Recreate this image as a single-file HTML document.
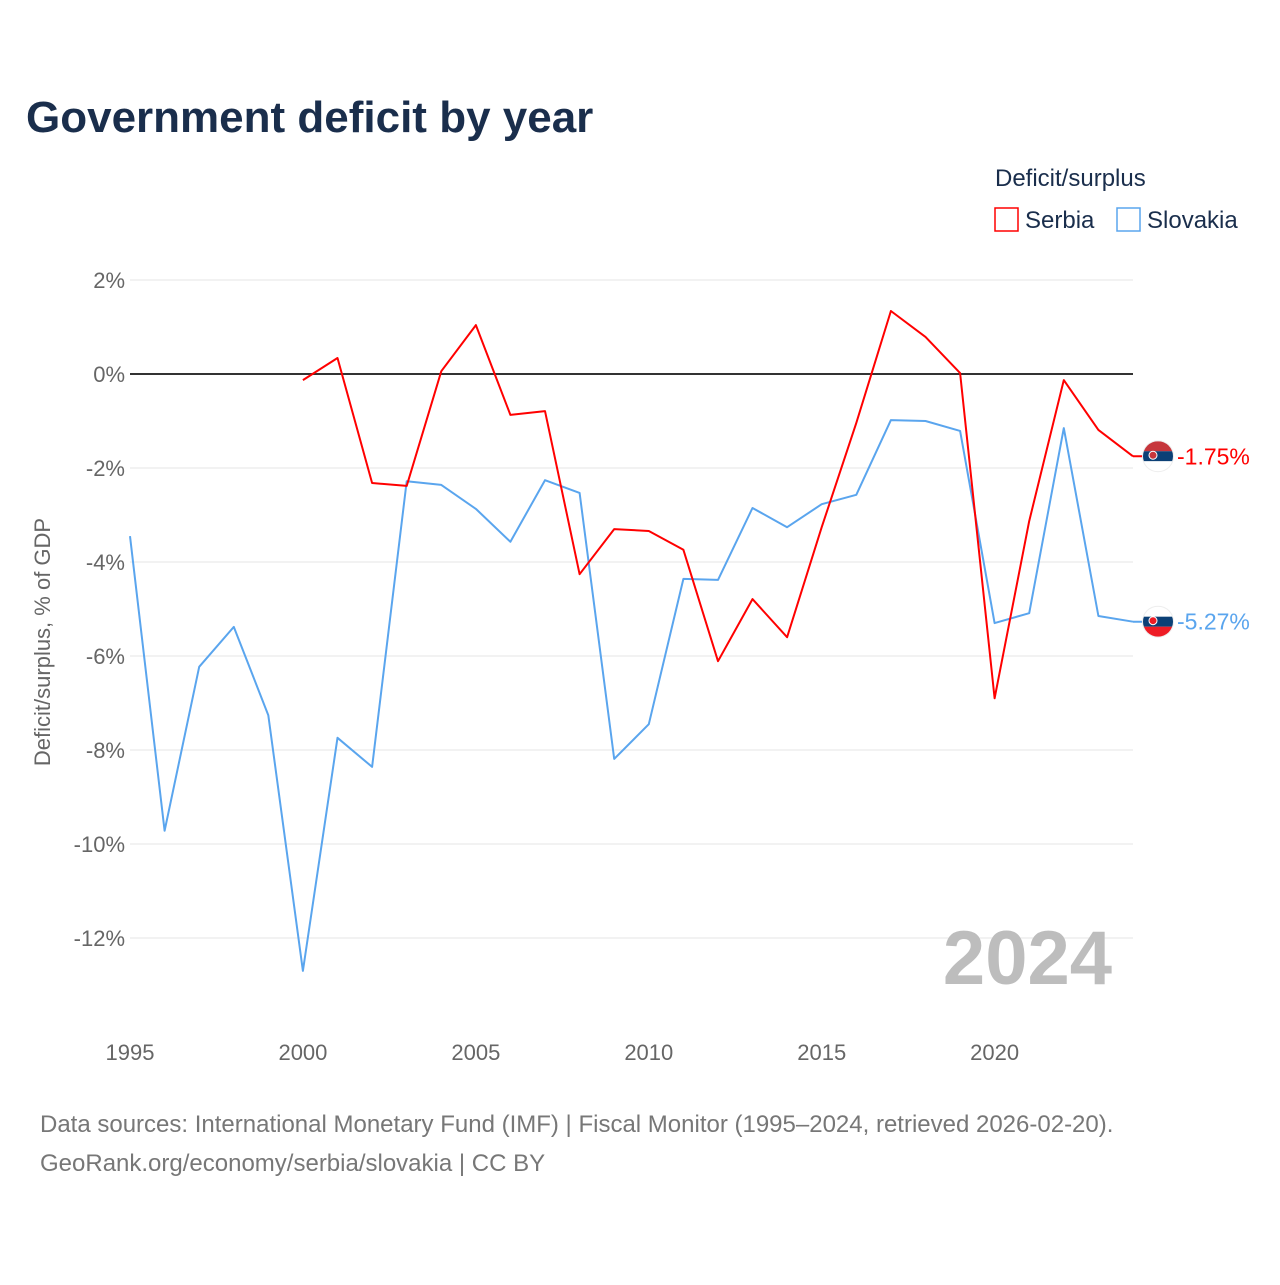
<!DOCTYPE html>
<html><head><meta charset="utf-8"><style>
body{margin:0;background:#fff;font-family:"Liberation Sans",sans-serif}
svg text{font-family:"Liberation Sans",sans-serif}
</style></head><body>
<svg id="c" width="1280" height="1280">
<defs id="defs"></defs>
<text x="26" y="132" font-size="44" font-weight="bold" fill="#1a2e4c">Government deficit by year</text>
<text x="995" y="186" font-size="24" fill="#1a2e4c">Deficit/surplus</text>
<g><rect x="995" y="208" width="23" height="23" fill="none" stroke="#ff0000" stroke-width="1.5"/><text x="1025" y="228" font-size="24" fill="#1a2e4c">Serbia</text></g>
<g><rect x="1117" y="208" width="23" height="23" fill="none" stroke="#5aa5ee" stroke-width="1.5"/><text x="1147" y="228" font-size="24" fill="#1a2e4c">Slovakia</text></g>
<text transform="translate(50,642) rotate(-90)" text-anchor="middle" font-size="22" fill="#666">Deficit/surplus, % of GDP</text>
<g id="grid"></g><g id="lines"></g>
<text x="1112" y="984" text-anchor="end" font-size="76" font-weight="bold" fill="#bdbdbd">2024</text>
<text x="40" y="1132" font-size="24" fill="#777">Data sources: International Monetary Fund (IMF) | Fiscal Monitor (1995–2024, retrieved 2026-02-20).</text>
<text x="40" y="1171" font-size="24" fill="#777">GeoRank.org/economy/serbia/slovakia | CC BY</text>
</svg>
<script>
const years=[1995,1996,1997,1998,1999,2000,2001,2002,2003,2004,2005,2006,2007,2008,2009,2010,2011,2012,2013,2014,2015,2016,2017,2018,2019,2020,2021,2022,2023,2024];
const slovakia=[-3.45,-9.72,-6.23,-5.38,-7.26,-12.7,-7.74,-8.36,-2.28,-2.36,-2.87,-3.57,-2.26,-2.53,-8.19,-7.45,-4.36,-4.38,-2.85,-3.26,-2.77,-2.57,-0.98,-1.0,-1.21,-5.3,-5.09,-1.15,-5.15,-5.27];
const serbia=[null,null,null,null,null,-0.13,0.34,-2.32,-2.38,0.06,1.04,-0.87,-0.79,-4.26,-3.3,-3.34,-3.74,-6.11,-4.79,-5.6,-3.26,-1.04,1.34,0.79,0.02,-6.9,-3.13,-0.13,-1.19,-1.75];
const yTicks=[2,0,-2,-4,-6,-8,-10,-12];
const xTicks=[1995,2000,2005,2010,2015,2020];
const X=y=>130+(y-1995)*34.586, Y=v=>374-47*v;
const NS="http://www.w3.org/2000/svg";
function mk(t,a,p){const e=document.createElementNS(NS,t);for(const k in a)e.setAttribute(k,a[k]);p.appendChild(e);return e;}
const g=document.getElementById('grid'),L=document.getElementById('lines'),D=document.getElementById('defs');
yTicks.forEach(v=>{
 const l=mk('line',{x1:130,x2:1133,y1:Y(v),y2:Y(v),stroke:v===0?'#333':'#e6e6e6','stroke-width':v===0?2:1},g);
 
 
 const t=mk('text',{x:125,y:Y(v)+8,'text-anchor':'end','font-size':22,fill:'#666'},g);t.textContent=v+'%';
 
 
});
xTicks.forEach(yr=>{
 const t=mk('text',{x:X(yr),y:1060,'text-anchor':'middle','font-size':22,fill:'#666'},g);t.textContent=yr;
 
 
});
function line(vals,col,name){
 const pts=[];vals.forEach((v,i)=>{if(v!==null)pts.push(X(years[i]).toFixed(1)+','+Y(v).toFixed(1));});
 const p=mk('polyline',{points:pts.join(' '),fill:'none',stroke:col,'stroke-width':2,'stroke-linejoin':'round'},L);
 
 
 const last=vals[vals.length-1],ly=Y(last);
 mk('line',{x1:X(2024),x2:1150,y1:ly,y2:ly,stroke:col,'stroke-width':2},L);
 const cp=mk('clipPath',{id:'clip-'+name},D);
 mk('circle',{cx:1158,cy:ly,r:15},cp);
 mk('circle',{cx:1158,cy:ly,r:16,fill:'#eee'},L);
 const f=mk('g',{'clip-path':'url(#clip-'+name+')'},L);
 
 
 mk('rect',{x:1143,y:ly-15,width:30,height:10,fill:name==='serbia'?'#c6363c':'#fff'},f);
 mk('rect',{x:1143,y:ly-5,width:30,height:10,fill:'#0c4076'},f);
 mk('rect',{x:1143,y:ly+5,width:30,height:10,fill:name==='serbia'?'#fff':'#ee1c25'},f);
 mk('circle',{cx:1153,cy:ly-1,r:4,fill:name==='serbia'?'#c6363c':'#ee1c25',stroke:'#fff','stroke-width':1},f);
 const t=mk('text',{x:1177,y:ly+8,'font-size':23,fill:col},L);t.textContent=last.toFixed(2)+'%';
 
 
}
line(slovakia,'#5aa5ee','slovakia');
line(serbia,'#ff0000','serbia');
</script>
</body></html>
